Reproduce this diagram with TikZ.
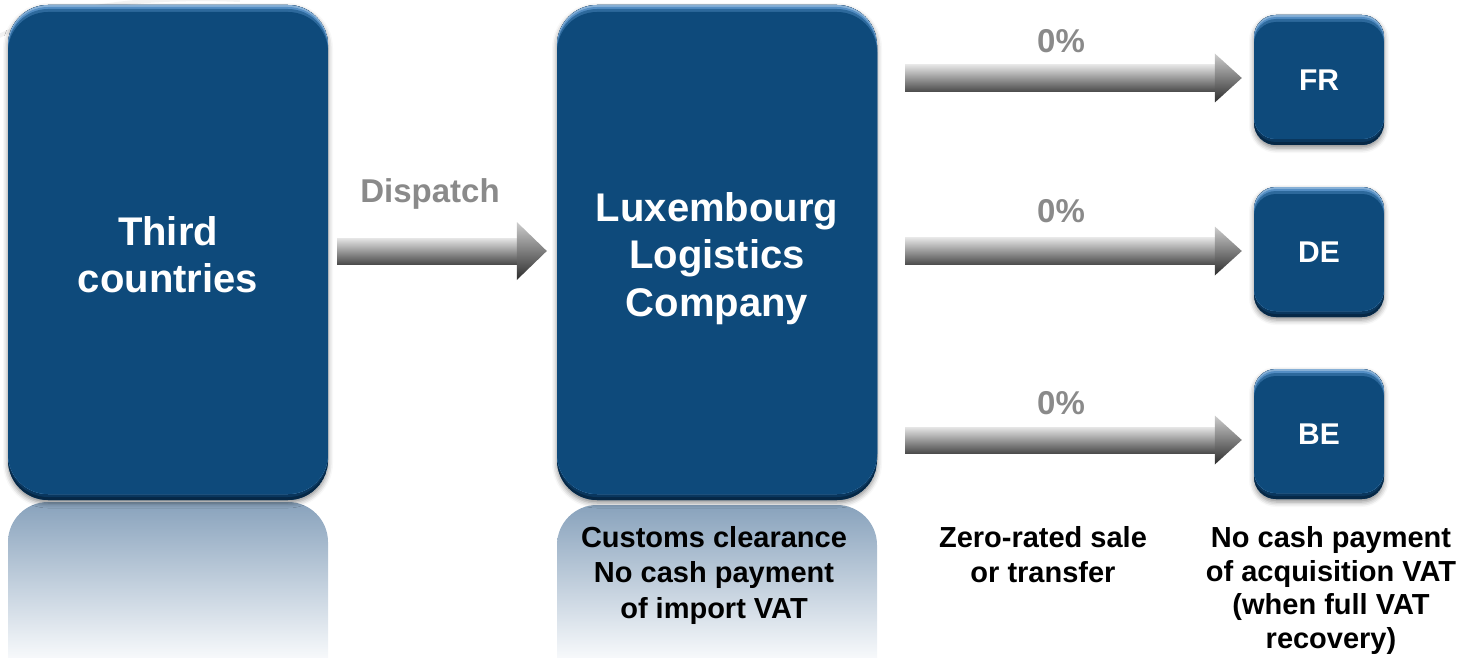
\documentclass[tikz,border=0pt]{standalone}
\usepackage{fontspec}
\setmainfont{Liberation Sans}
\usetikzlibrary{calc,shadows.blur}

\definecolor{boxblue}{RGB}{14,74,123}
\definecolor{boxlight}{RGB}{84,142,196}
\definecolor{boxdark}{RGB}{6,40,70}
\definecolor{labelgray}{RGB}{138,138,138}
\definecolor{reflecttop}{RGB}{136,162,188}
\definecolor{reflectbot}{RGB}{247,249,251}
\definecolor{arrowlight}{RGB}{230,230,230}
\definecolor{arrowmid}{RGB}{165,165,165}
\definecolor{arrowdark}{RGB}{76,76,76}
\definecolor{headlight}{RGB}{205,205,205}
\definecolor{headdark}{RGB}{45,45,45}

\tikzset{
  % rounded box with a light rim on top and a dark rim below
  bevel/.style={path picture={
    \fill[boxdark] (path picture bounding box.south west) rectangle (path picture bounding box.north east);
    \begin{scope}
      \clip[rounded corners=#1] ([yshift=3pt]path picture bounding box.south west)
        rectangle ([yshift=3pt]path picture bounding box.north east);
      \fill[boxdark!55!boxblue] (path picture bounding box.south west) rectangle (path picture bounding box.north east);
      \clip[rounded corners=#1] ([yshift=6pt]path picture bounding box.south west)
        rectangle ([yshift=6pt]path picture bounding box.north east);
      \fill[boxlight!70!white] (path picture bounding box.south west) rectangle (path picture bounding box.north east);
      \fill[boxlight, rounded corners=#1] ([yshift=-2pt]path picture bounding box.south west)
        rectangle ([yshift=-2pt]path picture bounding box.north east);
      \fill[boxlight!45!boxblue, rounded corners=#1] ([yshift=-4pt]path picture bounding box.south west)
        rectangle ([yshift=-4pt]path picture bounding box.north east);
      \fill[boxblue, rounded corners=#1] ([yshift=-7pt]path picture bounding box.south west)
        rectangle ([yshift=-7pt]path picture bounding box.north east);
    \end{scope}}},
  bluebox/.style={fill=boxblue, inner sep=0pt,
    blur shadow={shadow xshift=0pt, shadow yshift=-3pt, shadow blur radius=5pt, shadow opacity=45}},
  bigbox/.style={bluebox, minimum width=320pt, minimum height=495pt, rounded corners=40pt, bevel=40pt},
  smallbox/.style={bluebox, minimum width=130pt, minimum height=130pt, rounded corners=22pt, bevel=22pt,
    text=white, font=\bfseries\fontsize{30}{36}\selectfont},
  boxtext/.style={text=white, align=center, inner sep=0pt, font=\bfseries\fontsize{40}{47.5}\selectfont},
  mirror/.style={top color=reflecttop, bottom color=reflectbot},
  flowlabel/.style={text=labelgray, font=\bfseries\fontsize{33}{40}\selectfont, inner sep=0pt, anchor=base},
  note/.style={font=\bfseries\fontsize{29}{35.5}\selectfont, align=center, inner sep=0pt, anchor=north},
  shaftshade/.style={top color=arrowlight, middle color=arrowmid, bottom color=arrowdark},
  headshade/.style={top color=headlight, bottom color=headdark},
}

% shaded block arrow: start, tip, half shaft width, half head width, head length
\newcommand\blockarrow[5]{%
  \shade[shaftshade] let \p1=(#1), \p2=(#2) in
    (\x1,\y1+#3) rectangle (\x2-#5+1pt,\y1-#3);
  \shade[headshade] let \p1=(#1), \p2=(#2) in
    (\x2-#5,\y1+#4) -- (\x2,\y1) -- (\x2-#5,\y1-#4) -- cycle;}

\begin{document}
\begin{tikzpicture}[x=1pt,y=-1pt]
  \useasboundingbox (0,0) rectangle (1462,658);

  % faint swoosh in the background
  \draw[gray!10, line width=4pt] (-5,38) .. controls (60,5) and (150,-4) .. (240,0);

  % mirrored reflections below the large boxes
  \shade[mirror] (8,658) -- (8,542) arc[start angle=180, end angle=90, radius=40pt]
    -- (288,502) arc[start angle=90, end angle=0, radius=40pt] -- (328,658) -- cycle;
  \shade[mirror] (557,658) -- (557,545) arc[start angle=180, end angle=90, radius=40pt]
    -- (837,505) arc[start angle=90, end angle=0, radius=40pt] -- (877,658) -- cycle;

  % boxes
  \node[bigbox] (third) at (168,252.5) {};
  \node[bigbox] (lux) at (717,252.5) {};
  \node[boxtext] (third-t) at ($(third)+(0,2)$) {Third\\countries};
  \node[boxtext] (lux-t) at ($(lux)+(0,6)$) {Luxembourg\\Logistics\\Company};
  \node[smallbox] (fr) at (1319,80) {FR};
  \node[smallbox] (de) at (1319,252) {DE};
  \node[smallbox] (be) at (1319,434) {BE};

  % arrow end points
  \coordinate (ds) at ($(third.east)+(9,-1.5)$);
  \coordinate (dtip) at ($(lux.west)+(-10,-1.5)$);
  \coordinate (a1s) at ($(lux.east |- fr.west)+(28,-2)$);
  \coordinate (a1e) at ($(fr.west)+(-12,-2)$);
  \coordinate (a2s) at ($(lux.east |- de.west)+(28,-1)$);
  \coordinate (a2e) at ($(de.west)+(-12,-1)$);
  \coordinate (a3s) at ($(lux.east |- be.west)+(28,6)$);
  \coordinate (a3e) at ($(be.west)+(-12,6)$);

  \blockarrow{ds}{dtip}{13pt}{29pt}{30pt}
  \blockarrow{a1s}{a1e}{13.5pt}{24.5pt}{27pt}
  \blockarrow{a2s}{a2e}{13.5pt}{24.5pt}{27pt}
  \blockarrow{a3s}{a3e}{13pt}{24.5pt}{27pt}

  % arrow labels
  \node[flowlabel] (dlab) at (430,202) {Dispatch};
  \node[flowlabel] (p1) at (1061,53) {0\%};
  \node[flowlabel] (p2) at (1061,222) {0\%};
  \node[flowlabel] (p3) at (1061,414) {0\%};

  % notes below
  \node[note] (n1) at (714,526) {Customs clearance\\No cash payment\\of import VAT};
  \node[note] (n2) at (1043,526) {Zero-rated sale\\or transfer};
  \node[note, font=\bfseries\fontsize{29}{33.8}\selectfont] (n3) at (1331,526)
    {No cash payment\\of acquisition VAT\\(when full VAT\\recovery)};
\end{tikzpicture}
\end{document}
